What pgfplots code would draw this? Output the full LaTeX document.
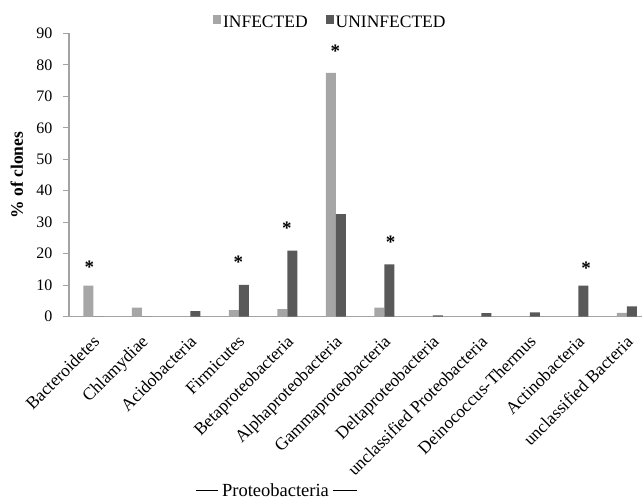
\documentclass[border=0pt]{standalone}
\usepackage{fontspec}
\setmainfont{Liberation Serif}
\usepackage{pgfplots}
\pgfplotsset{compat=1.18}
\definecolor{infc}{HTML}{A6A6A6}
\definecolor{uninfc}{HTML}{595959}
\definecolor{axc}{HTML}{A3A3A3}

\pgfplotstableread{
x  inf   uninf
0  9.9   0
1  2.9   0
2  0     1.8
3  2.1   10.1
4  2.4   21.0
5  77.4  32.6
6  2.9   16.6
7  0     0.4
8  0     1.1
9  0     1.4
10 0     9.9
11 1.2   3.3
}\datatable

\pgfplotstableread{
x     y
-0.08 15.8
2.99  17.2
3.99  28.1
4.99  84.2
6.13  23.6
10.16 15.4
}\startable

\begin{document}
\begin{tikzpicture}[font=\fontsize{16}{19}\selectfont]
\begin{axis}[
  at={(0pt,0pt)}, anchor=south west,
  scale only axis, width=582pt, height=283.4pt,
  xmin=-0.5, xmax=11.5, ymin=0, ymax=90,
  axis lines*=left,
  axis line style={draw=axc, line width=1.2pt},
  ytick={0,10,...,90},
  xtick={0,...,11},
  xticklabels={Bacteroidetes,Chlamydiae,Acidobacteria,Firmicutes,Betaproteobacteria,Alphaproteobacteria,Gammaproteobacteria,Deltaproteobacteria,unclassified Proteobacteria,Deinococcus-Thermus,Actinobacteria,unclassified Bacteria},
  x tick style={draw=none},
  y tick style={draw=axc, line width=1pt},
  tick align=outside, major tick length=6pt,
  /pgf/number format/assume math mode=true,
  yticklabel style={font=\fontsize{16}{19}\selectfont, xshift=-7pt},
  xticklabel style={font=\fontsize{17.5}{20}\selectfont, xshift=-1.5pt, yshift=-10pt, rotate=45, anchor=north east, inner sep=1pt},
  ylabel={\textbf{\% of clones}},
  ylabel style={font=\fontsize{17.5}{20}\selectfont, yshift=6.5pt},
  legend style={at={(0.449,1.038)}, anchor=center, draw=none, fill=none,
    legend columns=2, font=\fontsize{17.5}{20}\selectfont,
    /tikz/every even column/.append style={column sep=16pt},
    inner sep=0pt},
  clip=false,
]
\addplot[ybar, bar width=10pt, bar shift=-5pt, fill=infc, draw=none,
  legend image code/.code={\fill[infc] (0pt,-1pt) rectangle (8pt,8pt);}]
  table[x=x, y=inf] {\datatable};
\addlegendentry{INFECTED}
\addplot[ybar, bar width=10pt, bar shift=5pt, fill=uninfc, draw=none,
  legend image code/.code={\fill[uninfc] (0pt,-1pt) rectangle (8pt,8pt);}]
  table[x=x, y=uninf] {\datatable};
\addlegendentry{UNINFECTED}
\addplot[only marks, mark=text, text mark={\bfseries\fontsize{19}{19}\selectfont *}, forget plot]
  table[x=x, y=y] {\startable};
\end{axis}
\node at (207.5pt,-173.5pt) {\fontsize{18.5}{21}\selectfont\rule[0.3em]{22pt}{0.7pt}\hspace{4pt}Proteobacteria\hspace{4pt}\rule[0.3em]{24pt}{0.7pt}};
\pgfresetboundingbox
\path[use as bounding box] (-69pt,-183.3pt) rectangle (573pt,316.7pt);
\end{tikzpicture}
\end{document}
